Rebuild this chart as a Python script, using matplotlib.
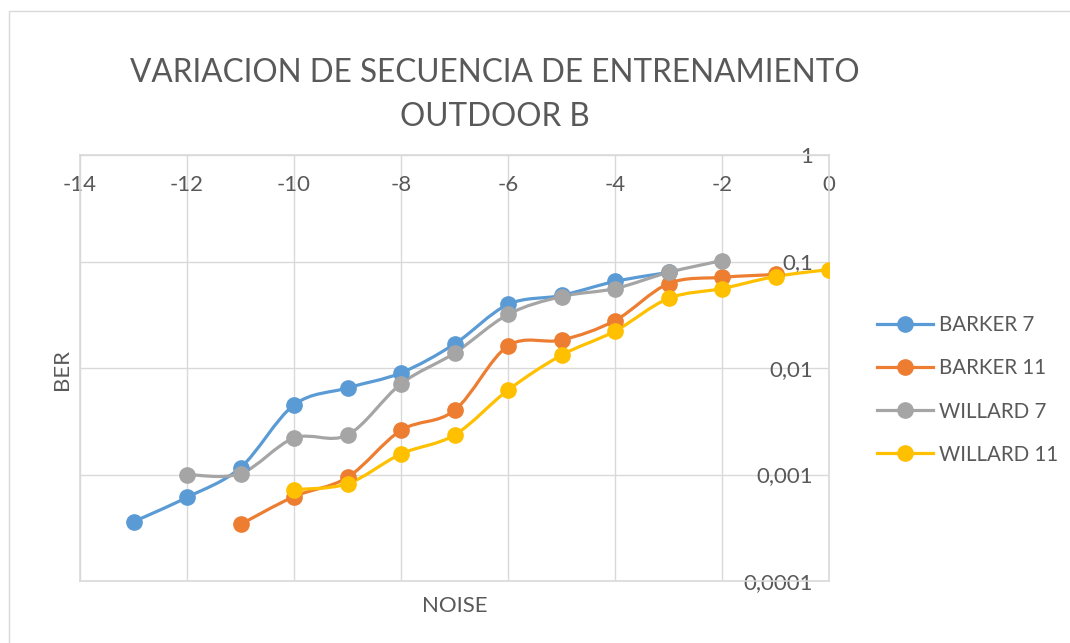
import matplotlib.pyplot as plt
from matplotlib.path import Path
from matplotlib.patches import PathPatch, Rectangle
from matplotlib.lines import Line2D
import numpy as np

plt.rcParams['font.family'] = ['Lato', 'DejaVu Sans']
plt.rcParams['axes.unicode_minus'] = False

# BER per noise level for each training sequence
x_barker7 = [-13, -12, -11, -10, -9, -8, -7, -6, -5, -4, -3]
y_barker7 = [3.6e-4, 6.1e-4, 1.16e-3, 4.5e-3, 6.5e-3, 9.0e-3, 0.0168, 0.0395, 0.048, 0.065, 0.079]

x_barker11 = [-11, -10, -9, -8, -7, -6, -5, -4, -3, -2, -1]
y_barker11 = [3.4e-4, 6.2e-4, 9.4e-4, 2.6e-3, 4.0e-3, 0.0161, 0.0183, 0.0279, 0.062, 0.071, 0.0755]

x_willard7 = [-12, -11, -10, -9, -8, -7, -6, -5, -4, -3, -2]
y_willard7 = [1.0e-3, 1.02e-3, 2.2e-3, 2.35e-3, 7.1e-3, 0.0138, 0.0318, 0.0469, 0.0557, 0.079, 0.102]

x_willard11 = [-10, -9, -8, -7, -6, -5, -4, -3, -2, -1, 0]
y_willard11 = [7.2e-4, 8.2e-4, 1.56e-3, 2.35e-3, 6.2e-3, 0.0132, 0.0222, 0.045, 0.0557, 0.0723, 0.084]

series = [
    ('BARKER 7', x_barker7, y_barker7, '#5B9BD5'),
    ('BARKER 11', x_barker11, y_barker11, '#ED7D31'),
    ('WILLARD 7', x_willard7, y_willard7, '#A5A5A5'),
    ('WILLARD 11', x_willard11, y_willard11, '#FFC000'),
]

y_ticks = [1e-4, 1e-3, 1e-2, 1e-1, 1]
y_tick_labels = ['0,0001', '0,001', '0,01', '0,1', '1']
x_ticks = list(range(-14, 1, 2))

text_color = '#595959'
grid_color = '#D9D9D9'


def smooth_path(xs, ys):
    # Catmull-Rom style bezier through the points, built in log space
    px = np.array(xs, dtype=float)
    py = np.log10(np.array(ys, dtype=float))
    verts = [(px[0], py[0])]
    codes = [Path.MOVETO]
    n = len(px)
    for i in range(n - 1):
        p0 = (px[i - 1], py[i - 1]) if i > 0 else (px[i], py[i])
        p1 = (px[i], py[i])
        p2 = (px[i + 1], py[i + 1])
        p3 = (px[i + 2], py[i + 2]) if i + 2 < n else p2
        c1 = (p1[0] + (p2[0] - p0[0]) / 6, p1[1] + (p2[1] - p0[1]) / 6)
        c2 = (p2[0] - (p3[0] - p1[0]) / 6, p2[1] - (p3[1] - p1[1]) / 6)
        verts += [c1, c2, p2]
        codes += [Path.CURVE4] * 3
    verts = [(vx, 10 ** vy) for vx, vy in verts]
    return Path(verts, codes)


fig = plt.figure(figsize=(10.7, 6.43), dpi=100)
fig.patches.append(Rectangle((9 / 1070, -0.1), 1.2, 1 - 11 / 643 + 0.1,
                             transform=fig.transFigure, fill=False,
                             edgecolor=grid_color, linewidth=1))
ax = fig.add_axes([80 / 1070, 1 - 581 / 643, 749 / 1070, 426 / 643])

handles = []
for name, xs, ys, color in series:
    ax.add_patch(PathPatch(smooth_path(xs, ys), fill=False, edgecolor=color,
                           linewidth=2.3, capstyle='round', joinstyle='round', zorder=3))
    ax.plot(xs, ys, linestyle='none', marker='o', markersize=11,
            color=color, zorder=4)
    handles.append(Line2D([], [], color=color, linewidth=2.3, marker='o', markersize=11))

ax.set_yscale('log')
ax.set_xlim(-14, 0)
ax.set_ylim(1e-4, 1)
ax.set_xticks(x_ticks)
ax.set_yticks(y_ticks, y_tick_labels)
ax.minorticks_off()
ax.grid(True, color=grid_color, linewidth=1)
ax.set_axisbelow(True)
for side in ['left', 'bottom', 'top', 'right']:
    ax.spines[side].set_color(grid_color)
    ax.spines[side].set_linewidth(1.2)

ax.tick_params(axis='x', bottom=False, labelbottom=False, top=False, labeltop=True,
               pad=-32, labelsize=16, labelcolor=text_color)
ax.tick_params(axis='y', left=False, labelleft=False, right=False, labelright=True,
               pad=-15, labelsize=16, labelcolor=text_color)
for lbl in ax.get_yticklabels():
    lbl.set_horizontalalignment('right')

ax.set_xlabel('NOISE', fontsize=16, color=text_color, labelpad=11)
fig.text(62 / 1070, 1 - 369 / 643, 'BER', rotation=90, ha='center', va='center',
         fontsize=16, color=text_color)

fig.text(495 / 1070, 1 - 95 / 643, 'VARIACION DE SECUENCIA DE ENTRENAMIENTO\nOUTDOOR B',
         ha='center', va='center', fontsize=22.7, color=text_color, linespacing=1.6)

fig.legend(handles, [s[0] for s in series], loc='center left',
           bbox_to_anchor=(858 / 1070, 1 - 390 / 643), frameon=False,
           fontsize=14.8, labelcolor=text_color, handlelength=2.75,
           labelspacing=1.12, handletextpad=0.3)

plt.savefig('out.png', dpi=100)
